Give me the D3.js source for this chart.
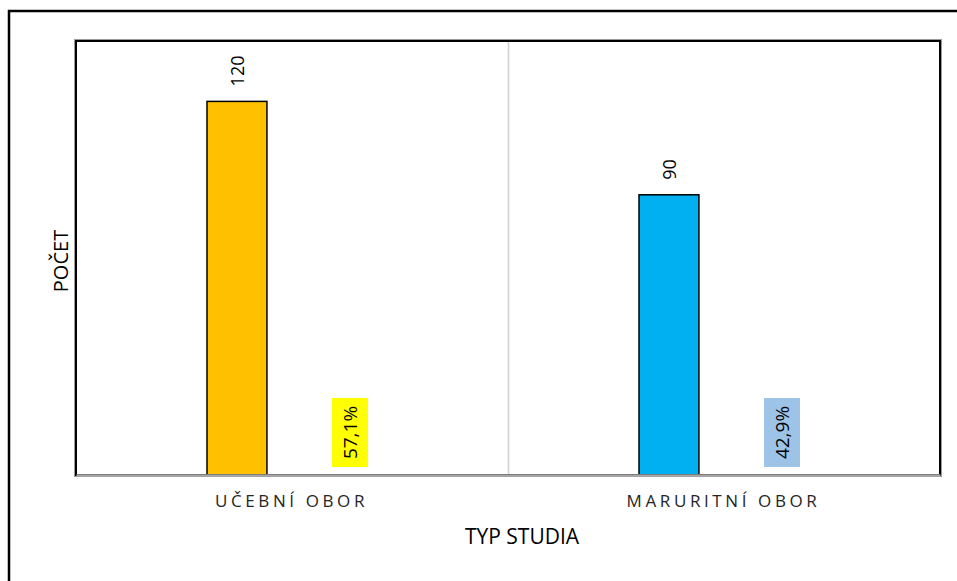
<!DOCTYPE html>
<meta charset="utf-8">
<style>
  body { margin: 0; background: #fff; }
  svg { display: block; font-family: "Open Sans", sans-serif; }
</style>
<svg width="957" height="581"></svg>

<script src="https://cdn.jsdelivr.net/npm/d3@7"></script>
<script>

// data
var categories = ["UČEBNÍ OBOR", "MARURITNÍ OBOR"];
var counts = [120, 90];
var shares = [57.1, 42.9];
var shareLabels = ["57,1%", "42,9%"];
var barColors = ["#FFC000", "#00B0F0"];
var labelBoxColors = ["#FFFF00", "#9DC3E6"];

var svg = d3.select("svg"),
    plot = {left: 76, top: 41, right: 940, bottom: 475};

// outer frame
svg.append("rect")
    .attr("x", 9).attr("y", 11)
    .attr("width", 980).attr("height", 620)
    .attr("fill", "none").attr("stroke", "#000").attr("stroke-width", 2.5);

/*
 * Scales: one band per category, two slots inside (count, share).
 */
var x = d3.scaleBand()
    .domain(categories)
    .range([plot.left, plot.right])
    .padding(0);

var xSub = d3.scaleBand()
    .domain(["count", "share"])
    .range([131, 304])
    .paddingInner(0.47)
    .paddingOuter(0);

var y = d3.scaleLinear()
    .domain([0, 139.4])
    .range([plot.bottom, plot.top]);

var g = svg.append("g");

// divider between categories
g.append("line")
    .attr("x1", x(categories[1]) + 0.5).attr("x2", x(categories[1]) + 0.5)
    .attr("y1", plot.top).attr("y2", plot.bottom)
    .attr("stroke", "#d0d0d0").attr("stroke-width", 1.5);

// count bars
g.selectAll(".bar")
    .data(categories)
    .enter().append("rect")
      .attr("class", "bar")
      .attr("x", function(d) { return x(d) + xSub("count"); })
      .attr("y", function(d, i) { return y(counts[i]); })
      .attr("width", xSub.bandwidth())
      .attr("height", function(d, i) { return y(0) - y(counts[i]); })
      .attr("fill", function(d, i) { return barColors[i]; })
      .attr("stroke", "#000").attr("stroke-width", 1.5);

// count labels
g.selectAll(".countLabel")
    .data(categories)
    .enter().append("text")
      .attr("class", "countLabel")
      .attr("transform", function(d, i) {
        return "translate(" + (x(d) + xSub("count") + xSub.bandwidth() / 2 + 1) + "," + (y(counts[i]) - 15) + ")rotate(-90)";
      })
      .attr("dy", "0.35em")
      .attr("font-size", 18)
      .attr("fill", "#000")
      .text(function(d, i) { return counts[i]; });

// share labels with coloured boxes
var shareG = g.selectAll(".shareLabel")
    .data(categories)
    .enter().append("g")
      .attr("class", "shareLabel")
      .attr("transform", function(d) {
        return "translate(" + (x(d) + xSub("share") + xSub.bandwidth() / 2) + "," + (plot.bottom - 42.5) + ")rotate(-90)";
      });

shareG.append("rect")
    .attr("x", -34.5).attr("y", -18)
    .attr("width", 69).attr("height", 36)
    .attr("fill", function(d, i) { return labelBoxColors[i]; });

shareG.append("text")
    .attr("text-anchor", "middle")
    .attr("dy", "0.35em")
    .attr("font-size", 19)
    .attr("fill", "#000")
    .text(function(d, i) { return shareLabels[i]; });

// plot frame
svg.append("rect")
    .attr("x", plot.left - 1.5).attr("y", plot.top - 1.5)
    .attr("width", plot.right - plot.left + 3).attr("height", plot.bottom - plot.top + 3)
    .attr("fill", "none").attr("stroke", "#9a9a9a").attr("stroke-width", 1);
svg.append("rect")
    .attr("x", plot.left).attr("y", plot.top)
    .attr("width", plot.right - plot.left).attr("height", plot.bottom - plot.top)
    .attr("fill", "none").attr("stroke", "#000").attr("stroke-width", 2);

// x axis
var xAxis = svg.append("g")
    .attr("transform", "translate(0," + plot.bottom + ")")
    .call(d3.axisBottom(x).tickSize(0).tickPadding(20));
xAxis.select(".domain")
    .attr("stroke", "#a6a6a6").attr("stroke-width", 2.5);
xAxis.selectAll("text")
    .attr("font-family", "Open Sans, sans-serif")
    .attr("font-size", 17)
    .attr("letter-spacing", "3.6px")
    .attr("fill", "#262626")
    .attr("dx", "-0.5px");

// share bars are tiny (percent of one unit) and vanish into the axis line
g.selectAll(".share")
    .data(categories)
    .enter().append("rect")
      .attr("class", "share")
      .attr("x", function(d) { return x(d) + xSub("share") - 25; })
      .attr("y", y(0) - 1)
      .attr("width", xSub.bandwidth() + 50)
      .attr("height", function(d, i) { return Math.min(1, y(0) - y(shares[i] / 100)); })
      .attr("fill", "#ED7D31")
      .attr("opacity", 0.5);

// axis titles
svg.append("text")
    .attr("x", 522).attr("y", 537)
    .attr("dy", "0.35em")
    .attr("text-anchor", "middle")
    .attr("font-size", 21)
    .attr("fill", "#000")
    .text("TYP STUDIA");

svg.append("text")
    .attr("transform", "translate(61,261)rotate(-90)")
    .attr("dy", "0.35em")
    .attr("text-anchor", "middle")
    .attr("font-size", 20)
    .attr("fill", "#000")
    .text("POČET");

</script>
